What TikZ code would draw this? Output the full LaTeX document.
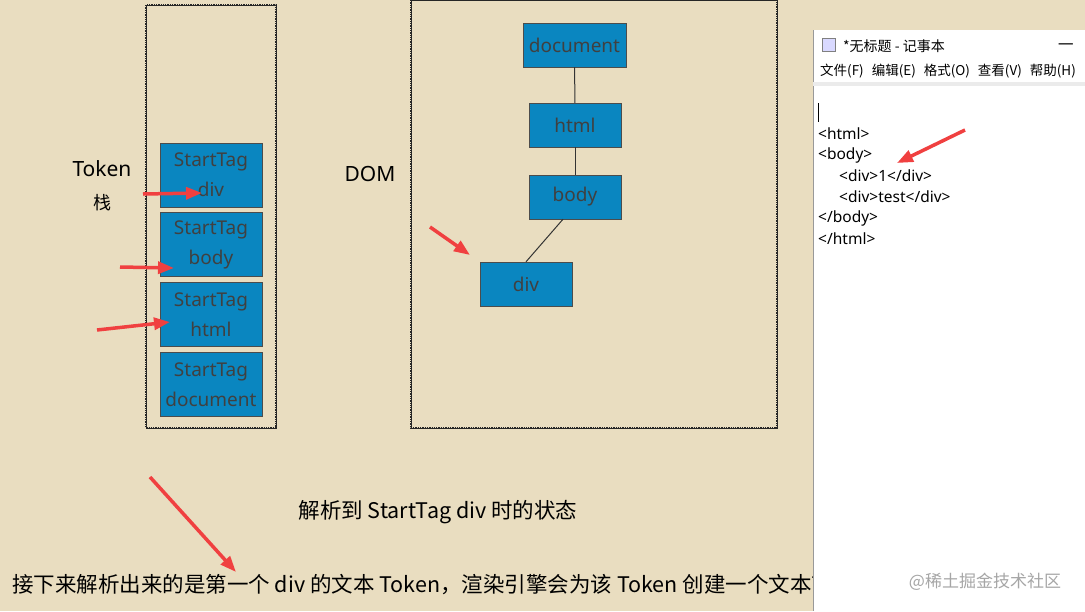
\documentclass[tikz,border=0pt]{standalone}
\usepackage{fontspec}
\setmainfont{Noto Sans}
\newfontfamily\cjk{Noto Sans CJK SC}
\usetikzlibrary{arrows.meta}
\definecolor{bg}{HTML}{E9DDC0}
\definecolor{boxblue}{HTML}{0A86C0}
\definecolor{redarr}{HTML}{F04040}
\begin{document}
\begin{tikzpicture}[x=1pt,y=-1pt,
  blk/.style={draw=black!70,fill=boxblue,text=black!75,inner sep=0,font=\fontsize{19}{30}\selectfont,align=center},
  cont/.style={draw=black!85,line width=1.3pt,densely dotted},
  cont2/.style={draw=black!85,line width=0.6pt},
  rarr/.style={draw=redarr,line width=3.5pt,-{Triangle[length=16pt,width=12pt]}},
  np/.style={anchor=west,font=\fontsize{15.5}{17}\selectfont,inner sep=0}]
\useasboundingbox (0,0) rectangle (1085,611);
\fill[bg] (0,0) rectangle (1085,611);
% containers
\draw[cont] (146,5) rectangle (276,428);
\draw[cont2] (146,5) rectangle (276,428);
\draw[cont] (411,0) rectangle (777,428);
\draw[cont2] (411,0) rectangle (777,428);
% stack
\node[blk,minimum width=102pt,minimum height=64pt] (s1) at (211,175) {StartTag\\div};
\node[blk,minimum width=102pt,minimum height=64pt] (s2) at (211,244.5) {StartTag\\body};
\node[blk,minimum width=102pt,minimum height=64pt] (s3) at (211,314.5) {StartTag\\html};
\node[blk,minimum width=102pt,minimum height=64pt] (s4) at (211,384.5) {StartTag\\document};
\node[font=\fontsize{21}{23}\selectfont] (tok) at (102,169) {Token};
\node[font=\cjk\fontsize{18}{20}\selectfont] (zhan) at (102,203) {栈};
\node[font=\fontsize{21}{23}\selectfont] (dom) at (370,174) {DOM};
% DOM tree
\node[blk,minimum width=103pt,minimum height=44pt] (d) at (574.5,45) {document};
\node[blk,minimum width=92pt,minimum height=44pt] (h) at (575,125) {html};
\node[blk,minimum width=92pt,minimum height=44pt] (b) at (575,197) {body};
\node[blk,minimum width=92pt,minimum height=44pt] (v) at (526,284) {div};
\draw[black!80,line width=1pt] (d) -- (h);
\draw[black!80,line width=1pt] (h) -- (b);
\draw[black!80,line width=1pt] (b.south)++(-12,0) coordinate (bb) -- (v.north)++(7,0) coordinate (vv);
% arrows
\coordinate (a1) at (143,194); \coordinate (a1e) at (202,193);
\coordinate (a2) at (120,267); \coordinate (a2e) at (174,268);
\coordinate (a3) at (97,330); \coordinate (a3e) at (170,322);
\coordinate (a4) at (430,227); \coordinate (a4e) at (470,255);
\coordinate (a6) at (150,477); \coordinate (a6e) at (236,572);
\draw[rarr] (a1) -- (a1e);
\draw[rarr] (a2) -- (a2e);
\draw[rarr] (a3) -- (a3e);
\draw[rarr] (a4) -- (a4e);
\draw[rarr] (a6) -- (a6e);
% captions
\node[font=\cjk\fontsize{21.5}{24}\selectfont] (cap) at (438,512) {解析到 StartTag div 时的状态};
\begin{scope}
\clip (0,560) rectangle (813,611);
\node[anchor=west,inner sep=0,font=\cjk\fontsize{21.5}{24}\selectfont] (bot) at (12,585) {接下来解析出来的是第一个 div 的文本 Token，渲染引擎会为该 Token 创建一个文本节点};
\end{scope}
% notepad
\fill[white] (813,30) rectangle (1085,611);
\draw[black!40] (813,30) -- (813,611);
\fill[black!8] (813,82) rectangle (1085,86);
\node[draw=black!50,fill=blue!15,minimum size=13pt,inner sep=0] (ic) at (829,45) {};
\node[np,font=\cjk\fontsize{14}{16}\selectfont] (ttl) at (843,46) {*无标题 - 记事本};
\node[np] (mn) at (1058,46) {—};
\node[np,font=\cjk\fontsize{13.5}{16}\selectfont] (menu) at (820,71) {文件(F)\hspace{8pt}编辑(E)\hspace{8pt}格式(O)\hspace{8pt}查看(V)\hspace{8pt}帮助(H)};
\draw[black] (818,103) -- (818,122);
\node[np] (l1) at (818,134) {<html>};
\node[np] (l2) at (818,155) {<body>};
\node[np] (l3) at (839,176) {<div>1</div>};
\node[np] (l4) at (839,197) {<div>test</div>};
\node[np] (l5) at (818,218) {</body>};
\node[np] (l6) at (818,239) {</html>};
\coordinate (a5) at (965,130); \coordinate (a5e) at (897,163);
\draw[rarr] (a5) -- (a5e);
\node[font=\cjk\fontsize{17}{19}\selectfont,text=black!35] (wm) at (985,582) {@稀土掘金技术社区};
\end{tikzpicture}
\end{document}
